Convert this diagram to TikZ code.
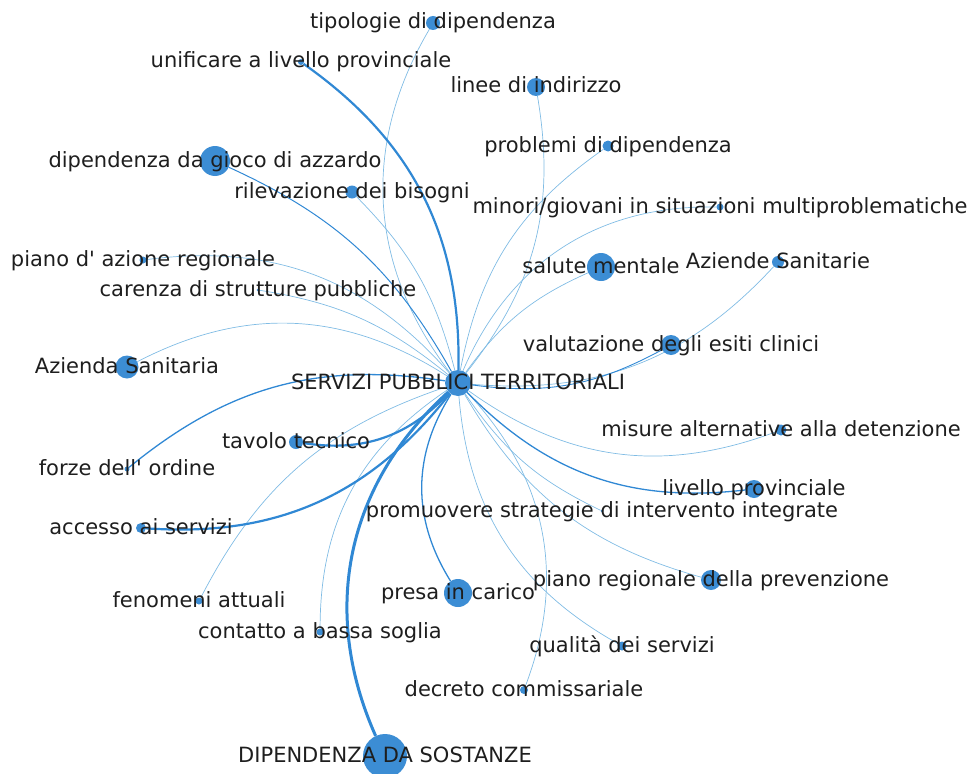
\documentclass[tikz,border=0pt]{standalone}
\usepackage{fontspec}
\setmainfont{DejaVu Sans}
\usetikzlibrary{backgrounds}

\definecolor{nodeblue}{RGB}{60,141,212}
\definecolor{edgeblue}{RGB}{48,136,212}
\definecolor{paleblue}{RGB}{128,188,228}
\definecolor{labelgray}{RGB}{30,30,30}

\begin{document}
\begin{tikzpicture}[x=1pt, y=1pt,
  term/.style={circle, fill=nodeblue, inner sep=0pt, minimum size=#1},
  lbl/.style={font=\fontsize{21}{25}\selectfont, text=labelgray, inner sep=0pt, text height=12pt, text depth=0pt},
  link/.style={paleblue, line width=0.7pt},
  mid/.style={edgeblue, line width=1.3pt},
  strong/.style={edgeblue, line width=2.2pt}]
  \path[use as bounding box] (0,0) rectangle (973,-773);
  \clip (0,0) rectangle (973,-773);

  \node[term=26pt, label={[lbl]center:SERVIZI PUBBLICI TERRITORIALI}] (srv) at (458,-383) {};
  \node[term=14pt, label={[lbl]center:tipologie di dipendenza}] (tip) at (433,-23) {};
  \node[term=6pt, label={[lbl]center:unificare a livello provinciale}] (uni) at (301,-62) {};
  \node[term=18pt, label={[lbl]center:linee di indirizzo}] (lin) at (536,-87) {};
  \node[term=11pt, label={[lbl]center:problemi di dipendenza}] (pro) at (608,-146) {};
  \node[term=30pt, label={[lbl]center:dipendenza da gioco di azzardo}] (gio) at (215,-161) {};
  \node[term=13pt, label={[lbl]center:rilevazione dei bisogni}] (ril) at (352,-192) {};
  \node[term=7pt, label={[lbl]center:minori/giovani in situazioni multiproblematiche}] (min) at (720,-207) {};
  \node[term=7pt, label={[lbl]center:piano d\textquotesingle{} azione regionale}] (pia) at (143,-260) {};
  \node[term=28pt, label={[lbl]center:salute mentale}] (sal) at (601,-267) {};
  \node[term=12pt, label={[lbl]center:Aziende Sanitarie}] (azs) at (778,-262) {};
  \node[term=3pt, label={[lbl]center:carenza di strutture pubbliche}] (car) at (258,-290) {};
  \node[term=20pt, label={[lbl]center:valutazione degli esiti clinici}] (val) at (671,-345) {};
  \node[term=23pt, label={[lbl]center:Azienda Sanitaria}] (azi) at (127,-367) {};
  \node[term=11pt, label={[lbl]center:misure alternative alla detenzione}] (mis) at (781,-430) {};
  \node[term=14pt, label={[lbl]center:tavolo tecnico}] (tav) at (296,-442) {};
  \node[term=5pt, label={[lbl]center:forze dell\textquotesingle{} ordine}] (for) at (127,-469) {};
  \node[term=18pt, label={[lbl]center:livello provinciale}] (liv) at (754,-489) {};
  \node[term=10pt, label={[lbl]center:accesso ai servizi}] (acc) at (141,-528) {};
  \node[term=3pt, label={[lbl]center:promuovere strategie di intervento integrate}] (prm) at (602,-511) {};
  \node[term=28pt, label={[lbl]center:presa in carico}] (pre) at (458,-593) {};
  \node[term=20pt, label={[lbl]center:piano regionale della prevenzione}] (prv) at (711,-580) {};
  \node[term=7pt, label={[lbl]center:fenomeni attuali}] (fen) at (199,-601) {};
  \node[term=7pt, label={[lbl]center:contatto a bassa soglia}] (con) at (320,-632) {};
  \node[term=9pt, label={[lbl]center:qualità dei servizi}] (qua) at (622,-646) {};
  \node[term=8pt, label={[lbl]center:decreto commissariale}] (dec) at (524,-690) {};
  \node[term=44pt, label={[lbl]center:DIPENDENZA DA SOSTANZE}] (dip) at (385,-756) {};

  \begin{scope}[on background layer]
    \draw[link] (srv) to[bend left=34] (tip);
    \draw[link] (srv) to[bend right=24] (lin);
    \draw[link] (srv) to[bend left=22] (pro);
    \draw[link] (srv) to[bend right=15] (ril);
    \draw[link] (srv) to[bend left=34] (min);
    \draw[link] (srv) to[bend right=28] (pia);
    \draw[link] (srv) to[bend left=15] (sal);
    \draw[link] (srv) to[bend right=26] (azs);
    \draw[link] (srv) to[bend right=15] (car);
    \draw[link] (srv) to[bend right=30] (azi);
    \draw[link] (srv) to[bend right=28] (mis);
    \draw[link] (srv) to[bend right=15] (prm);
    \draw[link] (srv) to[bend right=22] (prv);
    \draw[link] (srv) to[bend right=22] (fen);
    \draw[link] (srv) to[bend right=28] (con);
    \draw[link] (srv) to[bend right=28] (qua);
    \draw[link] (srv) to[bend left=32] (dec);
    \draw[mid, line width=0.9pt] (srv) to[bend right=18] (val);
    \draw[mid, line width=1pt] (srv) to[bend right=18] (gio);
    \draw[mid] (srv) to[bend right=24] (for);
    \draw[mid] (srv) to[bend right=26] (liv);
    \draw[mid] (srv) to[bend right=32] (pre);
    \draw[strong] (srv) to[bend right=28] (uni);
    \draw[strong] (srv) to[bend left=28] (tav);
    \draw[strong] (srv) to[bend left=28] (acc);
    \draw[strong, line width=3pt] (srv) to[bend right=36] (dip);
  \end{scope}
\end{tikzpicture}
\end{document}
